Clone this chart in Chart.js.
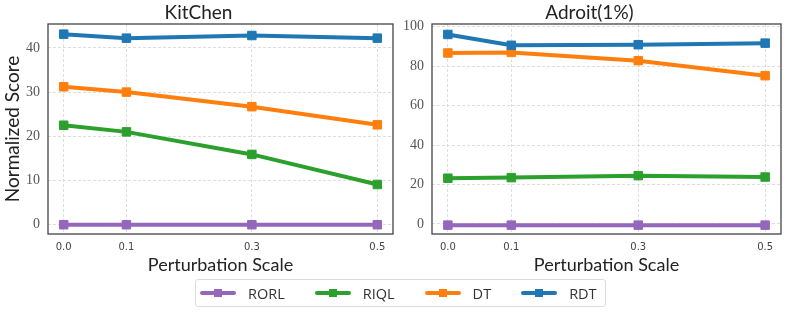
<!DOCTYPE html>
<html>
<head>
<meta charset="utf-8">
<script src="https://cdn.jsdelivr.net/npm/chart.js@4"></script>
<style>
  body { margin: 0; background: #fff; }
  #wrap { position: relative; width: 797px; height: 313px; }
  #c1 { position: absolute; left: 0; top: 0; }
  #c2 { position: absolute; left: 398px; top: 0; }
  #legend {
    position: absolute; left: 195px; top: 279px; height: 26px;
    border: 1px solid #dcdcdc; border-radius: 3px;
    display: flex; align-items: center; padding: 0 8px 0 4px;
    font-family: 'Open Sans', sans-serif; font-size: 14.5px; color: #333;
  }
  .item { display: flex; align-items: center; margin-right: 30px; }
  .item:last-child { margin-right: 0; }
  .sw { position: relative; width: 36px; height: 4px; border-radius: 2px; margin-right: 12px; }
  .sw i { position: absolute; left: 14px; top: -2px; width: 8px; height: 8px; }
</style>
</head>
<body>
<div id="wrap">
  <canvas id="c1" width="400" height="280"></canvas>
  <canvas id="c2" width="399" height="280"></canvas>
  <div id="legend"></div>
</div>
<script>
// data
const xVals = [0.0, 0.1, 0.3, 0.5];
const seriesNames = ['RORL', 'RIQL', 'DT', 'RDT'];
const seriesColors = ['#9467bd', '#2ca02c', '#ff7f0e', '#1f77b4'];

const kitchenRORL = [0, 0, 0, 0];
const kitchenRIQL = [22.5, 21.0, 15.9, 9.1];
const kitchenDT = [31.2, 30.0, 26.7, 22.6];
const kitchenRDT = [43.1, 42.2, 42.8, 42.2];

const adroitRORL = [-0.6, -0.6, -0.6, -0.6];
const adroitRIQL = [23.2, 23.5, 24.5, 23.8];
const adroitDT = [86.7, 87.0, 82.8, 75.2];
const adroitRDT = [96.1, 90.6, 90.9, 91.7];

const xTicks = [0.0, 0.1, 0.3, 0.5];
const kitchenTicks = [0, 10, 20, 30, 40];
const adroitTicks = [0, 20, 40, 60, 80, 100];

// frame around plot area
const framePlugin = {
  id: 'frame',
  beforeDatasetsDraw(chart) {
    const a = chart.chartArea, ctx = chart.ctx;
    ctx.save();
    ctx.strokeStyle = '#444';
    ctx.lineWidth = 1.3;
    ctx.strokeRect(a.left, a.top, a.right - a.left, a.bottom - a.top);
    ctx.restore();
  }
};

function makeChart(id, title, series, yMin, yMax, yTicks, yTitle, yWidth, padRight) {
  const datasets = series.map((vals, i) => ({
    label: seriesNames[i],
    data: xVals.map((x, j) => ({ x: x, y: vals[j] })),
    borderColor: seriesColors[i],
    backgroundColor: seriesColors[i],
    pointBackgroundColor: seriesColors[i],
    pointBorderColor: seriesColors[i],
    borderWidth: 4,
    pointStyle: 'rect',
    pointRadius: 6,
    pointBorderWidth: 1,
    tension: 0,
    order: series.length - i
  }));

  return new Chart(document.getElementById(id), {
    type: 'line',
    data: { datasets },
    plugins: [framePlugin],
    options: {
      responsive: false,
      animation: false,
      devicePixelRatio: 1,
      layout: { padding: { left: 0, right: padRight, top: 0, bottom: 0 } },
      plugins: {
        legend: { display: false },
        tooltip: { enabled: false },
        title: {
          display: true, text: title, color: '#222',
          font: { family: 'Lato', size: 19, weight: 'normal' },
          padding: { top: 1, bottom: 0.2 }
        }
      },
      scales: {
        x: {
          type: 'linear', min: -0.025, max: 0.525,
          afterBuildTicks: s => { s.ticks = xTicks.map(v => ({ value: v })); },
          afterFit: s => { s.height = 46; },
          grid: { color: '#d5d5d5', lineWidth: 0.8, drawTicks: false },
          border: { display: false, dash: [3, 2] },
          ticks: {
            padding: 7, color: '#444', maxRotation: 0, autoSkip: false,
            font: { family: 'DejaVu Sans', size: 10 },
            callback: v => Number(v).toFixed(1)
          },
          title: {
            display: true, text: 'Perturbation Scale', color: '#222',
            font: { family: 'Lato', size: 18 }, padding: { top: 0, bottom: 4 }
          }
        },
        y: {
          min: yMin, max: yMax,
          afterBuildTicks: s => { s.ticks = yTicks.map(v => ({ value: v })); },
          afterFit: s => { s.width = yWidth; },
          grid: { color: '#d5d5d5', lineWidth: 0.8, drawTicks: false },
          border: { display: false, dash: [3, 2] },
          ticks: {
            padding: 8, color: '#555',
            font: { family: 'Liberation Serif', size: 14 }
          },
          title: {
            display: yTitle, text: 'Normalized Score', color: '#222',
            font: { family: 'Lato', size: 19 }, padding: { top: 1, bottom: 0 }
          }
        }
      }
    }
  });
}

makeChart('c1', 'KitChen', [kitchenRORL, kitchenRIQL, kitchenDT, kitchenRDT],
  -2.1, 45.4, kitchenTicks, true, 48, 3);
makeChart('c2', 'Adroit(1%)', [adroitRORL, adroitRIQL, adroitDT, adroitRDT],
  -5.1, 101.4, adroitTicks, false, 34, 16);

// legend
const legend = document.getElementById('legend');
seriesNames.forEach((name, i) => {
  const item = document.createElement('div');
  item.className = 'item';
  item.innerHTML = '<span class="sw" style="background:' + seriesColors[i] + '"><i style="background:' +
    seriesColors[i] + '"></i></span><span>' + name + '</span>';
  legend.appendChild(item);
});
</script>
</body>
</html>
